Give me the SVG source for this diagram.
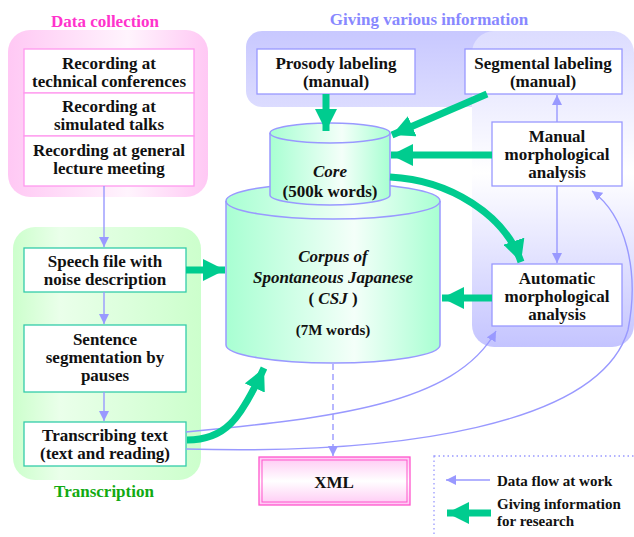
<svg xmlns="http://www.w3.org/2000/svg" width="634" height="537" viewBox="0 0 634 537" font-family="'Liberation Serif', 'DejaVu Serif', serif">
<defs>
<linearGradient id="gPink" x1="0" y1="0" x2="1" y2="0"><stop offset="0" stop-color="#ffc8f4"/><stop offset="0.6" stop-color="#fff4fd"/><stop offset="1" stop-color="#ffc8f4"/></linearGradient>
<linearGradient id="gGreen" x1="0" y1="0" x2="1" y2="0"><stop offset="0" stop-color="#ccffcc"/><stop offset="0.25" stop-color="#eaffea"/><stop offset="1" stop-color="#ccffcc"/></linearGradient>
<linearGradient id="gBand" x1="0" y1="0" x2="0" y2="1"><stop offset="0" stop-color="#c8c8ff"/><stop offset="1" stop-color="#dcdcff"/></linearGradient>
<linearGradient id="gCol" x1="0" y1="0" x2="0" y2="1"><stop offset="0" stop-color="#dcdcff"/><stop offset="0.45" stop-color="#ffffff"/><stop offset="1" stop-color="#c4c4ff"/></linearGradient>
<linearGradient id="gCyl" x1="0" y1="0" x2="1" y2="0"><stop offset="0" stop-color="#a8ffd2"/><stop offset="0.6" stop-color="#f4fff9"/><stop offset="1" stop-color="#a8ffd2"/></linearGradient>
<linearGradient id="gXml" x1="0" y1="0" x2="0" y2="1"><stop offset="0" stop-color="#ffc8f4"/><stop offset="0.5" stop-color="#ffffff"/><stop offset="1" stop-color="#ffc8f4"/></linearGradient>
<marker id="aThin" viewBox="0 0 10 10" refX="10" refY="5" markerWidth="10" markerHeight="10" markerUnits="userSpaceOnUse" orient="auto"><path d="M0,0 L10,5 L0,10 Z" fill="#9999ff"/></marker>
<marker id="aThick" viewBox="0 0 10 10" refX="10" refY="5" markerWidth="22" markerHeight="22" markerUnits="userSpaceOnUse" orient="auto"><path d="M0,0 L10,5 L0,10 Z" fill="#00cc8f"/></marker>
</defs>
<style>
text{font-family:'Liberation Serif','DejaVu Serif',serif;font-weight:bold;font-size:17px;text-anchor:middle;fill:#111}
.it{font-style:italic}
.title{font-size:17px}
.lg{text-anchor:start;font-size:15px}
.bp{fill:#fff;stroke:#ff99ee;stroke-width:1.3}
.bg{fill:#fff;stroke:#33ccaa;stroke-width:1.3}
.bb{fill:#fff;stroke:#9999ff;stroke-width:1.3}
.thin{fill:none;stroke:#9999ff;stroke-width:1.4;marker-end:url(#aThin)}
.thick{fill:none;stroke:#00cc8f;stroke-width:7;marker-end:url(#aThick)}
.cyl{fill:url(#gCyl);stroke:#9999ff;stroke-width:1.5}
</style>
<!-- groups -->
<g id="grp-data-collection">
<rect x="8" y="30" width="200" height="167" rx="22" fill="url(#gPink)"/>
<text class="title" x="105" y="27" style="fill:#ff33cc">Data collection</text>
</g>
<g id="grp-transcription">
<rect x="13" y="227" width="188" height="253" rx="22" fill="url(#gGreen)"/>
<text class="title" x="104" y="497" style="fill:#11aa11">Transcription</text>
</g>
<g id="grp-giving">
<rect x="246" y="31" width="380" height="76" rx="16" fill="url(#gBand)"/>
<rect x="472" y="31" width="162" height="316" rx="22" fill="url(#gCol)"/>
<text class="title" x="429" y="25" style="fill:#8888ff">Giving various information</text>
</g>
<!-- nodes -->
<g id="n-rec-tech"><rect class="bp" x="24" y="49" width="170" height="44"/><text x="109" y="69">Recording at</text><text x="109" y="87">technical conferences</text></g>
<g id="n-rec-sim"><rect class="bp" x="24" y="93" width="170" height="43"/><text x="109" y="112">Recording at</text><text x="109" y="130">simulated talks</text></g>
<g id="n-rec-gen"><rect class="bp" x="24" y="136" width="170" height="50"/><text x="109" y="156">Recording at general</text><text x="109" y="174">lecture meeting</text></g>
<g id="n-speech"><rect class="bg" x="24" y="248" width="162" height="44"/><text x="105" y="267">Speech file with</text><text x="105" y="285">noise description</text></g>
<g id="n-sent"><rect class="bg" x="24" y="325" width="162" height="67"/><text x="105" y="345">Sentence</text><text x="105" y="363">segmentation by</text><text x="105" y="381">pauses</text></g>
<g id="n-trans"><rect class="bg" x="24" y="422" width="162" height="44"/><text x="105" y="441">Transcribing text</text><text x="105" y="459">(text and reading)</text></g>
<g id="n-prosody"><rect class="bb" x="257" y="49" width="158" height="45"/><text x="336" y="69">Prosody labeling</text><text x="336" y="87">(manual)</text></g>
<g id="n-seg"><rect class="bb" x="465" y="49" width="157" height="45"/><text x="543" y="69">Segmental labeling</text><text x="543" y="87">(manual)</text></g>
<g id="n-manual"><rect class="bb" x="492" y="122" width="130" height="64"/><text x="557" y="142">Manual</text><text x="557" y="160">morphological</text><text x="557" y="178">analysis</text></g>
<g id="n-auto"><rect class="bb" x="492" y="264" width="130" height="62"/><text x="557" y="284">Automatic</text><text x="557" y="302">morphological</text><text x="557" y="320">analysis</text></g>
<g id="n-csj">
<path class="cyl" d="M226,201 L226,345 A107,18 0 0 0 440,345 L440,201 A107,18 0 0 0 226,201 Z"/>
<path d="M226,201 A107,18 0 0 0 440,201" fill="none" stroke="#9999ff" stroke-width="1.5"/>
<text class="it" x="333" y="262">Corpus of</text>
<text class="it" x="333" y="283">Spontaneous Japanese</text>
<text x="333" y="304">( <tspan class="it">CSJ</tspan> )</text>
<text x="333" y="335" style="font-size:15px">(7M words)</text>
</g>
<g id="n-core">
<path class="cyl" d="M270,133 L270,195 A60,10 0 0 0 390,195 L390,133 A60,10 0 0 0 270,133 Z"/>
<path d="M270,133 A60,10 0 0 0 390,133" fill="none" stroke="#9999ff" stroke-width="1.5"/>
<text class="it" x="330" y="177">Core</text>
<text x="330" y="197">(500k words)</text>
</g>
<g id="n-xml">
<rect x="259" y="457" width="151" height="48" fill="url(#gXml)" stroke="#ff55cc" stroke-width="1.3"/>
<rect x="262" y="460" width="145" height="42" fill="none" stroke="#ff55cc" stroke-width="1"/>
<text x="334" y="488">XML</text>
</g>
<g id="legend">
<rect x="434" y="456" width="210" height="90" fill="none" stroke="#9999ff" stroke-width="1.3" stroke-dasharray="1.5,3"/>
<line class="thin" x1="490" y1="480" x2="446" y2="480"/>
<text class="lg" x="497" y="486">Data flow at work</text>
<line class="thick" x1="491" y1="513" x2="447" y2="513"/>
<text class="lg" x="497" y="509">Giving information</text>
<text class="lg" x="497" y="526">for research</text>
</g>
<!-- connectors -->
<g id="connectors">
<line class="thin" x1="104" y1="186" x2="104" y2="247"/>
<line class="thin" x1="104" y1="292" x2="104" y2="324"/>
<line class="thin" x1="104" y1="392" x2="104" y2="421"/>
<line class="thin" x1="557" y1="122" x2="557" y2="95"/>
<line class="thin" x1="557" y1="186" x2="557" y2="263"/>
<line class="thin" x1="333" y1="364" x2="333" y2="456" stroke-dasharray="6,4"/>
<path class="thin" d="M186,432 C330,418 455,405 496,331"/>
<path class="thin" d="M186,449 C400,455 600,425 628,330 C640,270 625,215 592,191"/>
<line class="thick" x1="326" y1="94" x2="326" y2="131"/>
<line class="thick" x1="487" y1="94" x2="392" y2="135"/>
<line class="thick" x1="492" y1="155" x2="391" y2="155"/>
<line class="thick" x1="492" y1="298" x2="442" y2="298"/>
<line class="thick" x1="186" y1="270" x2="225" y2="270"/>
<path class="thick" d="M390,177 C450,180 505,215 521,262"/>
<path class="thick" d="M187,440 C225,440 240,420 264,368"/>
</g>
</svg>
